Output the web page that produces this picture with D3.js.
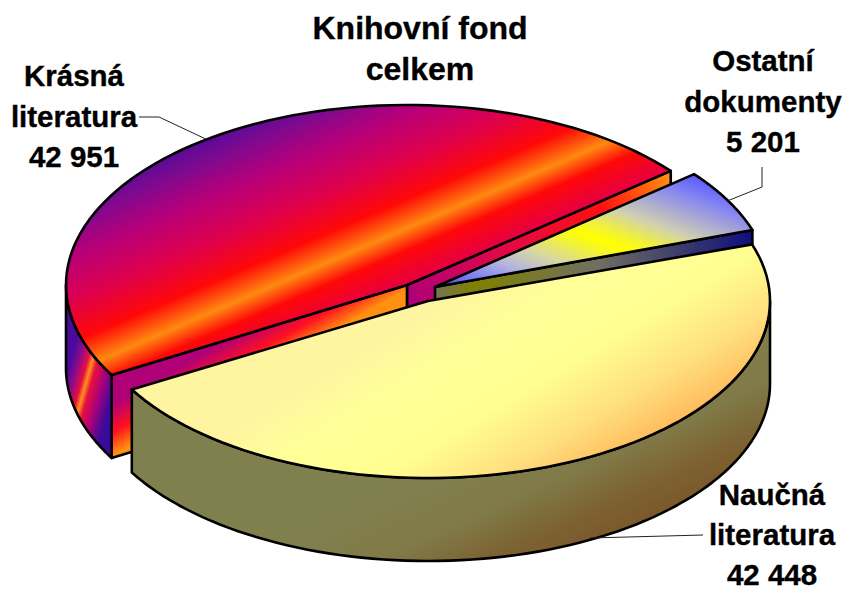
<!DOCTYPE html>
<html><head><meta charset="utf-8">
<script src="https://cdn.jsdelivr.net/npm/d3@7"></script>
<style>html,body{margin:0;padding:0;background:#fff}svg{display:block}text{font-family:"Liberation Sans",Arial,sans-serif;font-weight:700;font-size:29.5px;fill:#000;stroke:#000;stroke-width:.35;text-anchor:middle}</style>
</head><body><svg id="c" width="845" height="590"></svg>
<script>
const categories = ["Krásná literatura", "Ostatní dokumenty", "Naučná literatura"];
const values = [42951, 5201, 42448];
const valueLabels = ["42 951", "5 201", "42 448"];
const title = ["Knihovní fond", "celkem"];

const svg = d3.select("#c");
const defs = svg.append("defs");
const rad = d => d * Math.PI / 180;
const slices = d3.pie().sort(null).value(d => d).startAngle(rad(-120)).endAngle(rad(240))(values);

const geom = [
  {cx: 407, cy: 285, rx: 341, ry: 180},
  {cx: 435, cy: 287, rx: 335, ry: 178},
  {cx: 428, cy: 301, rx: 342, ry: 177}
];
const depth = 83;
const point = (g, a, z = 0) => [g.cx + g.rx * Math.sin(a), g.cy - g.ry * Math.cos(a) + z];
const line = d3.line();
const arcPts = (g, a0, a1, z = 0) => d3.range(0, 81).map(i => point(g, a0 + (a1 - a0) * i / 80, z));

function grad(id, x1, y1, x2, y2, stops) {
  const l = defs.append("linearGradient").attr("id", id).attr("gradientUnits", "userSpaceOnUse")
    .attr("x1", x1).attr("y1", y1).attr("x2", x2).attr("y2", y2);
  stops.forEach(([o, c]) => l.append("stop").attr("offset", o).attr("stop-color", c));
}
grad("kTop", 173, 144, 307, 456, [[0,"#4a0a9c"],[.08,"#7a0a90"],[.18,"#b4007a"],[.3,"#dc0050"],[.42,"#ff0808"],[.5,"#ff8a10"],[.56,"#ff0808"],[.64,"#e8003c"],[.8,"#e00050"],[1,"#c00070"]]);
grad("kWall", 65, 380, 113, 393.5, [[0,"#4a0a9c"],[.2,"#a00a80"],[.33,"#e8103c"],[.42,"#ff9020"],[.52,"#e8103c"],[.72,"#b00078"],[1,"#3a0a98"]]);
grad("kCutL", 120, 400, 142, 439, [[0,"#b00078"],[.55,"#ff1020"],[1,"#ff9010"]]);
grad("kCutR", 412, 300, 668, 180, [[0,"#b00078"],[.35,"#e00848"],[.75,"#ff1010"],[1,"#ff8c10"]]);
grad("oTop", 567, 328, 633, 152, [[0,"#5a5aff"],[.2,"#b4b4e0"],[.32,"#d8d8a0"],[.44,"#f4f430"],[.5,"#ffff00"],[.56,"#f4f430"],[.68,"#d0d0b0"],[.88,"#8888f0"],[1,"#5a5aff"]]);
grad("oCut", 436, 0, 756, 0, [[0,"#757555"],[.12,"#808000"],[.5,"#707060"],[.8,"#35356f"],[1,"#0c0c80"]]);
grad("nTop", 480, 280, 600, 480, [[0,"#fff4a0"],[.2,"#ffff99"],[.5,"#ffff90"],[.75,"#ffe080"],[1,"#ffb555"]]);
grad("nWall", 500, 440, 560, 570, [[0,"#80804e"],[.42,"#807a48"],[.72,"#7d6232"],[1,"#7a5528"]]);

const outline = s => s.attr("stroke", "#000").attr("stroke-width", 2.6).attr("stroke-linejoin", "round");
const poly = (pts, fill) => svg.append("path").attr("d", line(pts) + "Z").attr("fill", fill).call(outline);
const cut = (g, a, fill) => {
  const ap = [g.cx, g.cy], p = point(g, a);
  poly([ap, p, [p[0], p[1] + depth], [ap[0], ap[1] + depth]], fill);
};
const wall = (g, a0, a1, fill) => {
  const s = Math.max(a0, rad(90)), e = Math.min(a1, rad(270));
  poly(arcPts(g, s, e).concat(arcPts(g, s, e, depth).reverse()), fill);
};
const face = (g, a0, a1, fill) => poly([[g.cx, g.cy]].concat(arcPts(g, a0, a1)), fill);

const [k, o, n] = slices;
cut(geom[0], k.endAngle, "url(#kCutR)");
cut(geom[0], k.startAngle, "url(#kCutL)");
wall(geom[0], k.startAngle + 2 * Math.PI, rad(270), "url(#kWall)");
face(geom[0], k.startAngle, k.endAngle, "url(#kTop)");
cut(geom[1], o.endAngle, "url(#oCut)");
face(geom[1], o.startAngle, o.endAngle, "url(#oTop)");
wall(geom[2], n.startAngle, n.endAngle, "url(#nWall)");
face(geom[2], n.startAngle, n.endAngle, "url(#nTop)");

const leader = pts => svg.append("path").attr("d", line(pts)).attr("fill", "none").attr("stroke", "#222").attr("stroke-width", 1);
leader([[139,117],[159,117], point(geom[0], rad(-36))]);
leader([[762,167],[762,187], point(geom[1], (o.startAngle + o.endAngle) / 2)]);
leader([[703,535],[590,538]]);

const label = (x, ys, lines, fs) => lines.forEach((t, i) => svg.append("text").attr("x", x).attr("y", ys[i]).style("font-size", fs).text(t));
label(420, [39, 80], title, "32px");
label(74, [86, 127, 167], ["Krásná", "literatura", valueLabels[0]]);
label(763, [71, 112, 152], ["Ostatní", "dokumenty", valueLabels[1]]);
label(772, [505, 545, 585], ["Naučná", "literatura", valueLabels[2]]);
</script></body></html>
